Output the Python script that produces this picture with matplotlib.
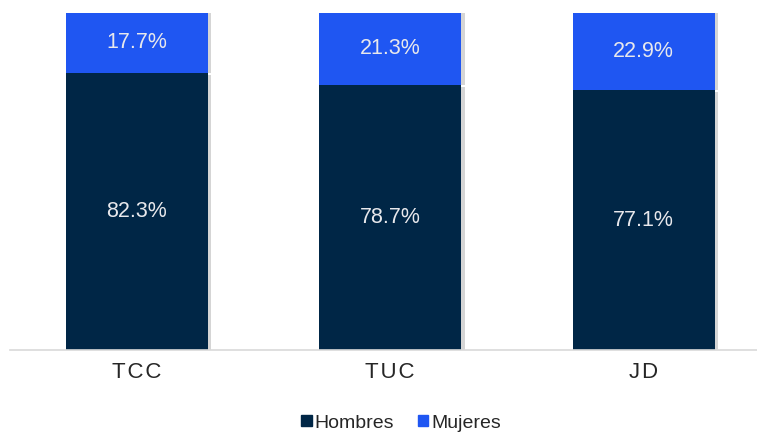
import matplotlib.pyplot as plt
import matplotlib.patheffects as pe
from matplotlib.patches import Patch

categories = ['TCC', 'TUC', 'JD']
hombres = [82.3, 78.7, 77.1]
mujeres = [17.7, 21.3, 22.9]

navy = '#002646'
blue = '#1f56f2'

plt.rcParams['font.family'] = ['Liberation Sans', 'DejaVu Sans']

fig = plt.figure(figsize=(7.57, 4.34), dpi=100)
ax = fig.add_axes([10 / 757, 84 / 434, 747 / 757, 337 / 434])

# soft shadow on the right/bottom of each stack
shadow_low = [pe.SimplePatchShadow(offset=(2.5, -1.5), shadow_rgbFace='#888888', alpha=0.35), pe.Normal()]
shadow_top = [pe.SimplePatchShadow(offset=(2.5, 0), shadow_rgbFace='#888888', alpha=0.35), pe.Normal()]

x = range(len(categories))
b1 = ax.bar(x, hombres, width=0.56, color=navy, zorder=2)
b2 = ax.bar(x, mujeres, width=0.56, bottom=hombres, color=blue, zorder=2)
for b in b1:
    b.set_path_effects(shadow_low)
for b in b2:
    b.set_path_effects(shadow_top)

for i in x:
    ax.text(i, hombres[i] / 2, f'{hombres[i]:.1f}%', ha='center', va='center',
            color='#e8e8ec', fontsize=15.5, zorder=3)
    ax.text(i, hombres[i] + mujeres[i] / 2, f'{mujeres[i]:.1f}%', ha='center', va='center',
            color='#e8e8ec', fontsize=15.5, zorder=3)

ax.set_xlim(-0.5, 2.447)
ax.set_ylim(0, 100)
ax.set_xticks(list(x))
ax.set_xticklabels(['\u200a'.join(c) for c in categories], fontsize=16, color='#262626')
ax.tick_params(axis='x', length=0, pad=9)
ax.set_yticks([])
for s in ['top', 'right', 'left']:
    ax.spines[s].set_visible(False)
ax.spines['bottom'].set_color('#d9d9d9')
ax.spines['bottom'].set_linewidth(1.2)

handles = [Patch(color=navy, label='Hombres'), Patch(color=blue, label='Mujeres')]
ax.legend(handles=handles, loc='center', bbox_to_anchor=(401 / 757, 11 / 434),
          bbox_transform=fig.transFigure, ncol=2, frameon=False, fontsize=14,
          handlelength=0.55, handleheight=0.55, handletextpad=0.15, columnspacing=1.2,
          labelcolor='#262626')

fig.savefig('out.png', dpi=100)
